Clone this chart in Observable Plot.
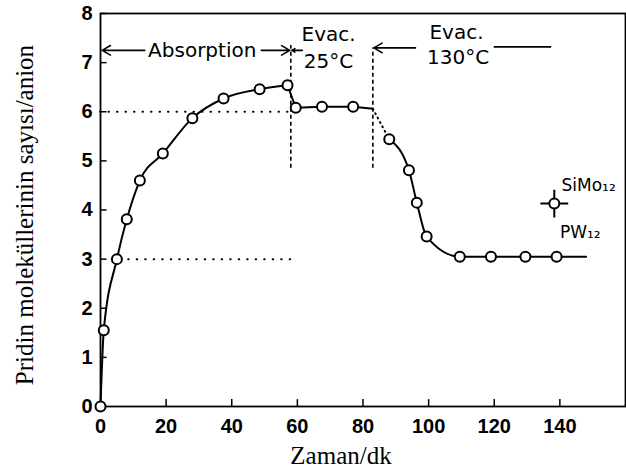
<!DOCTYPE html>
<html><head><meta charset="utf-8">
<script src="https://cdn.jsdelivr.net/npm/d3@7"></script>
<script src="https://cdn.jsdelivr.net/npm/@observablehq/plot@0.6"></script>
<style>
body{margin:0;background:#fff}
#chart svg [aria-label="x-axis tick label"] text,
#chart svg [aria-label="y-axis tick label"] text{font-family:"Liberation Sans",sans-serif;font-weight:bold;font-size:20px;fill:#000}
</style>
</head><body><div id="chart"></div>
<script>
// Absorption phase
const absTime  = [0, 1, 5, 8, 12, 19, 28, 37.5, 48.5, 57];
const absValue = [0, 1.55, 3.0, 3.81, 4.6, 5.15, 5.87, 6.27, 6.46, 6.54];
// Evacuation at 25°C (last point is the end of the line, no marker)
const evac25Time  = [59.5, 67.5, 77, 83];
const evac25Value = [6.08, 6.1, 6.1, 6.06];
// Evacuation at 130°C (last point is the end of the line, no marker)
const evac130Time  = [88, 94, 96.4, 99.4, 109.5, 119, 129.5, 139, 148];
const evac130Value = [5.44, 4.81, 4.15, 3.46, 3.05, 3.05, 3.05, 3.05, 3.05];
// SiMo12 single point
const simoTime = [138.3];
const simoValue = [4.13];

const xTicks = [0, 20, 40, 60, 80, 100, 120, 140];
const yTicks = [0, 1, 2, 3, 4, 5, 6, 7, 8];

const toPts = (t, v) => t.map((x, i) => ({x, y: v[i]}));
const abs = toPts(absTime, absValue);
const e25 = toPts(evac25Time, evac25Value);
const e130 = toPts(evac130Time, evac130Value);
const simo = toPts(simoTime, simoValue);
const drop = [abs[abs.length - 1], e25[0]];
const link = [e25[e25.length - 1], e130[0]];
const markers = [...abs, ...e25.slice(0, -1), ...e130.slice(0, -1)];

const annFont = {fontFamily: "DejaVu Sans", fontSize: 20, fill: "#000"};

const chart = Plot.plot({
  width: 626,
  height: 475,
  marginLeft: 100,
  marginRight: 1,
  marginTop: 13,
  marginBottom: 69,
  x: {domain: [0, 160]},
  y: {domain: [0, 8]},
  marks: [
    Plot.frame({stroke: "#000", strokeWidth: 1.8}),
    // inward ticks
    Plot.ruleX(xTicks.slice(1), {y1: 0, y2: 0.14, stroke: "#000", strokeWidth: 1.5}),
    Plot.ruleY(yTicks.slice(1), {x1: 0, x2: 2, stroke: "#000", strokeWidth: 1.5}),
    Plot.axisX({ticks: xTicks, tickSize: 0, tickPadding: 12, tickFormat: d => String(d), label: null}),
    Plot.axisY({ticks: yTicks, tickSize: 0, tickPadding: 8, tickFormat: d => String(d), label: null}),
    // dotted reference lines
    Plot.ruleY([6], {x1: 0, x2: 59, stroke: "#000", strokeWidth: 2, strokeDasharray: "0.5,8", strokeLinecap: "round"}),
    Plot.ruleY([3], {x1: 6, x2: 58, stroke: "#000", strokeWidth: 2, strokeDasharray: "0.5,8", strokeLinecap: "round"}),
    // phase boundaries
    Plot.ruleX([58], {y1: 4.85, y2: 7.35, stroke: "#000", strokeWidth: 1.6, strokeDasharray: "4,3"}),
    Plot.ruleX([83], {y1: 4.85, y2: 7.3, stroke: "#000", strokeWidth: 1.6, strokeDasharray: "4,3"}),
    // phase annotations
    Plot.arrow([{x1: 13.5, x2: 0.5, y: 7.25}], {x1: "x1", x2: "x2", y1: "y", y2: "y", stroke: "#000", strokeWidth: 1.6, headLength: 9}),
    Plot.arrow([{x1: 49, x2: 57.7, y: 7.25}], {x1: "x1", x2: "x2", y1: "y", y2: "y", stroke: "#000", strokeWidth: 1.6, headLength: 9}),
    Plot.arrow([{x1: 61.5, x2: 58.3, y: 7.25}], {x1: "x1", x2: "x2", y1: "y", y2: "y", stroke: "#000", strokeWidth: 1.6, headLength: 8}),
    Plot.arrow([{x1: 96, x2: 83.3, y: 7.3}], {x1: "x1", x2: "x2", y1: "y", y2: "y", stroke: "#000", strokeWidth: 1.6, headLength: 9}),
    Plot.ruleY([7.32], {x1: 120, x2: 137.5, stroke: "#000", strokeWidth: 1.6}),
    Plot.text(["Absorption"], {x: 31, y: 7.25, ...annFont}),
    Plot.text(["Evac."], {x: 69.5, y: 7.58, ...annFont}),
    Plot.text(["25°C"], {x: 69.5, y: 7.02, ...annFont}),
    Plot.text(["Evac."], {x: 108.5, y: 7.62, ...annFont}),
    Plot.text(["130°C"], {x: 109, y: 7.1, ...annFont}),
    // data curves
    Plot.line(abs, {x: "x", y: "y", curve: "monotone-x", stroke: "#000", strokeWidth: 2}),
    Plot.line(drop, {x: "x", y: "y", stroke: "#000", strokeWidth: 2}),
    Plot.line(e25, {x: "x", y: "y", stroke: "#000", strokeWidth: 2}),
    Plot.line(link, {x: "x", y: "y", stroke: "#000", strokeWidth: 2, strokeDasharray: "1,4", strokeLinecap: "round"}),
    Plot.line(e130, {x: "x", y: "y", curve: "monotone-x", stroke: "#000", strokeWidth: 2}),
    Plot.dot(markers, {x: "x", y: "y", r: 5, fill: "#fff", stroke: "#000", strokeWidth: 2}),
    Plot.dot(simo, {x: "x", y: "y", symbol: "plus", r: 9, stroke: "#000", strokeWidth: 2}),
    Plot.dot(simo, {x: "x", y: "y", r: 5, fill: "#fff", stroke: "#000", strokeWidth: 2}),
    Plot.text(["SiMo₁₂"], {x: 140.5, y: 4.5, textAnchor: "start", fontFamily: "DejaVu Sans", fontSize: 17, fill: "#000"}),
    Plot.text(["PW₁₂"], {x: 140, y: 3.55, textAnchor: "start", fontFamily: "DejaVu Sans", fontSize: 17, fill: "#000"}),
    // axis titles
    Plot.text(["Zaman/dk"], {frameAnchor: "bottom", textAnchor: "middle", dx: -22, dy: 57, fontFamily: "Liberation Serif", fontSize: 25, fill: "#000"}),
    Plot.text(["Pridin moleküllerinin sayısı/anion"], {frameAnchor: "left", textAnchor: "middle", rotate: -90, dx: -76, dy: 5, fontFamily: "Liberation Serif", fontSize: 25, fill: "#000"})
  ]
});
document.getElementById("chart").appendChild(chart);
</script>
</body></html>
